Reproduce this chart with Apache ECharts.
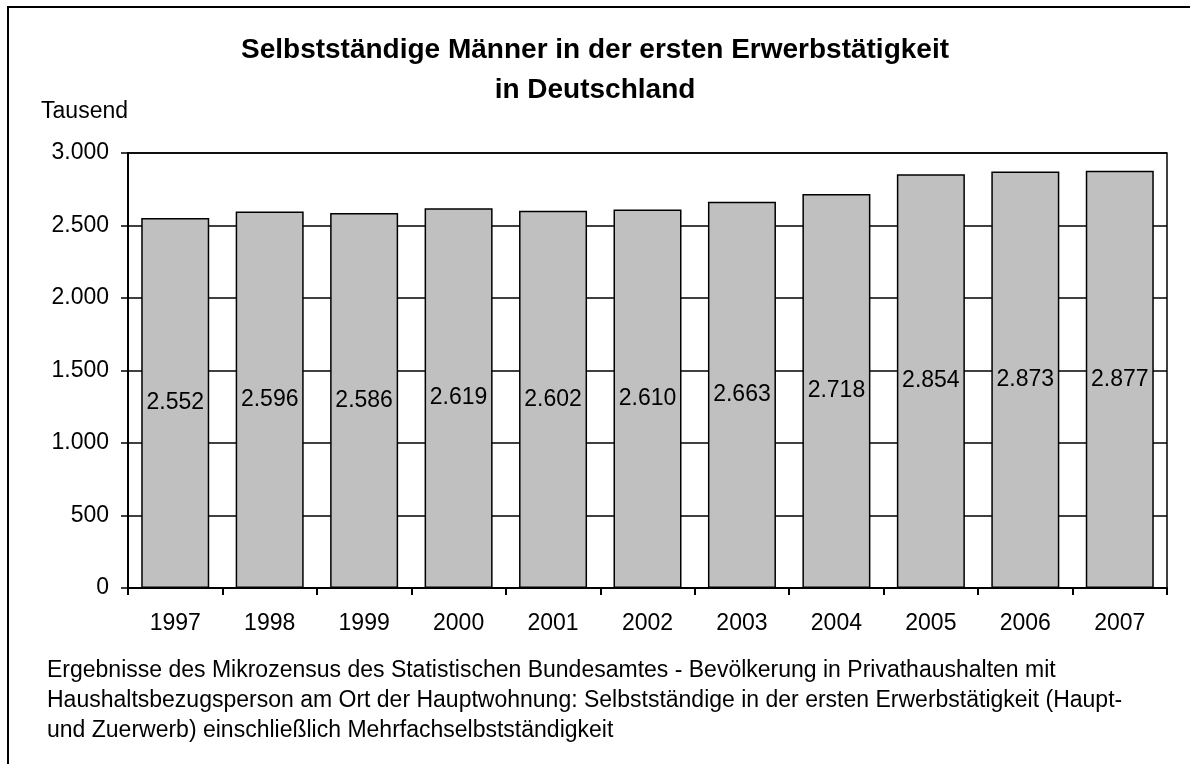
<!DOCTYPE html>
<html>
<head>
<meta charset="utf-8">
<script src="https://cdn.jsdelivr.net/npm/echarts@6/dist/echarts.min.js"></script>
<style>
  html, body { margin: 0; padding: 0; background: #fff; }
  #main { width: 1190px; height: 764px; }
</style>
</head>
<body>
<div id="main"></div>
<script>
// Jahre und Werte (Tausend)
const years = ['1997', '1998', '1999', '2000', '2001', '2002', '2003', '2004', '2005', '2006', '2007'];
const values = [2552, 2596, 2586, 2619, 2602, 2610, 2663, 2718, 2854, 2873, 2877];
const yTicks = [0, 500, 1000, 1500, 2000, 2500, 3000];

const titleLines = ['Selbstständige Männer in der ersten Erwerbstätigkeit', 'in Deutschland'];
const footLines = [
  'Ergebnisse des Mikrozensus des Statistischen Bundesamtes - Bevölkerung in Privathaushalten mit',
  'Haushaltsbezugsperson am Ort der Hauptwohnung: Selbstständige in der ersten Erwerbstätigkeit (Haupt-',
  'und Zuerwerb) einschließlich Mehrfachselbstständigkeit'
];

const FONT = '"Liberation Sans", Arial, sans-serif';

// 2552 -> "2.552"
const fmt = v => String(v).replace(/\B(?=(\d{3})+(?!\d))/g, '.');

const chart = echarts.init(document.getElementById('main'));

chart.setOption({
  animation: false,
  backgroundColor: '#fff',
  textStyle: { fontFamily: FONT },
  title: {
    text: titleLines.join('\n'),
    left: 'center',
    top: 30,
    padding: [0, 0, 0, 12],
    textStyle: { fontSize: 28, fontWeight: 'bold', color: '#000', lineHeight: 40, fontFamily: FONT }
  },
  grid: {
    left: 128, right: 23, top: 153, bottom: 176,
    show: true, borderColor: '#000', borderWidth: 1.5, backgroundColor: 'transparent'
  },
  xAxis: {
    type: 'category',
    data: years,
    axisLine: { lineStyle: { color: '#000', width: 2 } },
    axisTick: { show: true, length: 7, lineStyle: { color: '#000', width: 2 } },
    axisLabel: { color: '#000', fontSize: 23, margin: 24, fontFamily: FONT },
    splitLine: { show: false }
  },
  yAxis: {
    type: 'value',
    min: yTicks[0],
    max: yTicks[yTicks.length - 1],
    interval: 500,
    name: 'Tausend',
    nameLocation: 'end',
    nameGap: 30,
    nameTextStyle: { color: '#000', fontSize: 23, align: 'right', fontFamily: FONT },
    axisLine: { show: true, lineStyle: { color: '#000', width: 2 } },
    axisTick: { show: true, length: 7, lineStyle: { color: '#000', width: 1.5 } },
    axisLabel: { color: '#000', fontSize: 23, margin: 19, formatter: v => fmt(v), fontFamily: FONT },
    splitLine: { show: true, lineStyle: { color: '#000', width: 1.5 } }
  },
  series: [{
    type: 'bar',
    data: values,
    barCategoryGap: '28%',
    itemStyle: { color: '#c0c0c0', borderColor: '#000', borderWidth: 1.5 },
    label: {
      show: true,
      position: 'inside',
      color: '#000',
      fontSize: 23,
      fontFamily: FONT,
      formatter: p => fmt(p.value)
    }
  }],
  graphic: [
    {
      type: 'rect',
      shape: { x: 8, y: 7, width: 1300, height: 900 },
      style: { fill: 'none', stroke: '#000', lineWidth: 2 },
      silent: true
    },
    ...footLines.map((t, i) => ({
      type: 'text',
      left: 47,
      top: 659 + i * 30,
      style: { text: t, fill: '#000', font: '23px ' + FONT }
    }))
  ]
});
</script>
</body>
</html>
